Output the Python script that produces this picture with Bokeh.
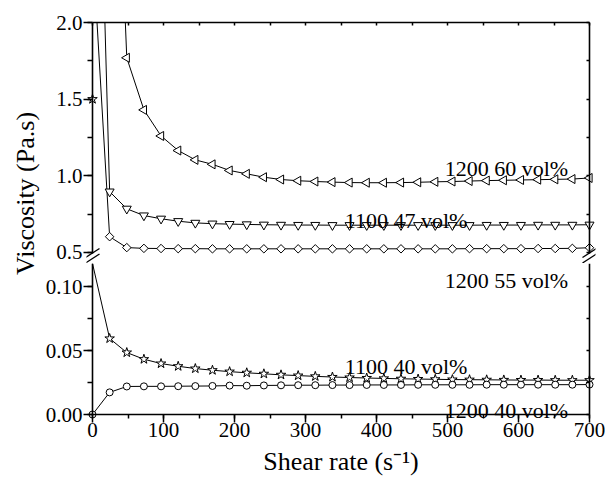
import math
from bokeh.plotting import figure
from bokeh.layouts import row, column
from bokeh.models import (LinearAxis, SingleIntervalTicker, FixedTicker, NumeralTickFormatter,
                          CustomJSTickFormatter, Label, Range1d)
from bokeh.embed import file_html
from bokeh.resources import INLINE

nan = float("nan")

# ---------------- data ----------------
shear_rate = [0.0, 24.14, 48.28, 72.41, 96.55, 120.69, 144.83, 168.97, 193.10, 217.24,
              241.38, 265.52, 289.66, 313.79, 337.93, 362.07, 386.21, 410.34, 434.48, 458.62,
              482.76, 506.90, 531.03, 555.17, 579.31, 603.45, 627.59, 651.72, 675.86, 700.0]

visc_1200_60 = [nan, 4.5, 1.77, 1.43, 1.26, 1.165, 1.104, 1.075, 1.035, 1.013,
                0.991, 0.976, 0.968, 0.963, 0.959, 0.956, 0.955, 0.955, 0.956, 0.958,
                0.961, 0.963, 0.966, 0.969, 0.971, 0.973, 0.975, 0.977, 0.979, 0.986]

visc_1100_47 = [4.9, 0.897, 0.785, 0.741, 0.720, 0.704, 0.693, 0.688, 0.685, 0.683,
                0.681, 0.680, 0.679, 0.679, 0.678, 0.678, 0.678, 0.678, 0.678, 0.678,
                0.678, 0.678, 0.678, 0.679, 0.679, 0.679, 0.680, 0.680, 0.680, 0.681]

visc_1200_55 = [2.5, 0.603, 0.532, 0.527, 0.526, 0.525, 0.525, 0.524, 0.524, 0.524,
                0.524, 0.524, 0.524, 0.524, 0.524, 0.524, 0.524, 0.524, 0.524, 0.524,
                0.524, 0.524, 0.525, 0.525, 0.525, 0.525, 0.526, 0.526, 0.527, 0.531]

visc_1100_40 = [1.5, 0.0594, 0.0484, 0.0432, 0.0398, 0.0377, 0.0359, 0.0346, 0.0335, 0.0326,
                0.0318, 0.0310, 0.0304, 0.0298, 0.0293, 0.0289, 0.0285, 0.0282, 0.0279, 0.0277,
                0.0275, 0.0273, 0.0272, 0.0271, 0.0270, 0.0269, 0.0269, 0.0268, 0.0268, 0.0268]

visc_1200_40 = [0.0, 0.0173, 0.0219, 0.0220, 0.0220, 0.0221, 0.0222, 0.0223, 0.0226, 0.0225,
                0.0227, 0.0228, 0.0229, 0.0229, 0.0230, 0.0230, 0.0231, 0.0231, 0.0231, 0.0232,
                0.0232, 0.0232, 0.0232, 0.0233, 0.0233, 0.0233, 0.0233, 0.0233, 0.0233, 0.0234]

series_names = ["1200 60 vol%", "1100 47 vol%", "1200 55 vol%", "1100 40 vol%", "1200 40 vol%"]

x_title = "Shear rate (s\u207b\u00b9)"
y_title = "Viscosity (Pa.s)"

# ---------------- geometry / style ----------------
FONT = "Liberation Serif"
TITLE_W = 40
PLOT_W = 605 - TITLE_W          # 565
PAD = 6                          # px of frame padding so edge markers stay whole
MB_LEFT, MB_RIGHT = 52 - PAD, 16 - PAD
PX_PER_X = 0.71
X_LO, X_HI = 0, 700
pad_x = PAD / PX_PER_X
x_range = Range1d(X_LO - pad_x, X_HI + pad_x)

# upper panel: frame from y=22 to y=263 px, spine stops at 253 px
TOP_H = 263
TOP_HI = 2.0
TOP_PX_PER_Y = 153.33
TOP_LO = TOP_HI - (TOP_H - 22) / TOP_PX_PER_Y
TOP_SPINE_LO = TOP_HI - (253 - 22) / TOP_PX_PER_Y

# lower panel: 0 at y=414 px, frame from 263 to 420 px
BOT_H = 481 - TOP_H              # 218
BOT_MB = 61
BOT_PX_PER_Y = 1279.7
BOT_HI = (414 - TOP_H) / BOT_PX_PER_Y
BOT_LO = -PAD / BOT_PX_PER_Y


def new_fig(height, y_range, mb_top, mb_bottom):
    f = figure(width=PLOT_W, height=height, x_range=x_range, y_range=y_range,
               output_backend="svg", toolbar_location=None,
               x_axis_location=None, y_axis_location=None,
               min_border_left=MB_LEFT, min_border_right=MB_RIGHT,
               min_border_top=mb_top, min_border_bottom=mb_bottom,
               outline_line_color=None)
    f.xgrid.visible = False
    f.ygrid.visible = False
    return f


def style_common(ax):
    ax.major_label_text_font = FONT
    ax.major_label_text_color = "black"
    ax.axis_line_color = "black"
    ax.axis_line_width = 1.6
    ax.major_tick_line_color = "black"
    ax.major_tick_line_width = 1.5
    ax.minor_tick_line_color = "black"
    ax.minor_tick_line_width = 1.5


def tick_axis(fig, side, interval, minor, fmt=None, tout=0, tin=0, mout=0, mino=0,
              standoff=1, bounds=None, line=False):
    kw = {} if bounds is None else {"bounds": bounds}
    ax = LinearAxis(ticker=SingleIntervalTicker(interval=interval, num_minor_ticks=minor), **kw)
    style_common(ax)
    if fmt is not None:
        ax.formatter = NumeralTickFormatter(format=fmt)
        ax.major_label_text_font_size = "21px"
        ax.major_label_standoff = standoff
    else:
        ax.formatter = CustomJSTickFormatter(code="return ''")
        ax.major_label_text_font_size = "0px"
        ax.major_label_standoff = 0
    if not line:
        ax.axis_line_color = None
    ax.major_tick_out = tout
    ax.major_tick_in = tin
    ax.minor_tick_out = mout
    ax.minor_tick_in = mino
    fig.add_layout(ax, side)
    return ax


def spine(fig, side, fixed, bounds):
    ax = LinearAxis(fixed_location=fixed, bounds=bounds, ticker=FixedTicker(ticks=[]))
    style_common(ax)
    ax.formatter = CustomJSTickFormatter(code="return ''")
    ax.major_label_text_font_size = "0px"
    ax.major_label_standoff = 0
    ax.major_tick_out = 0
    ax.major_tick_in = 0
    ax.minor_tick_out = 0
    ax.minor_tick_in = 0
    fig.add_layout(ax, side)
    return ax


markers = {
    "1200 60 vol%": dict(marker="triangle", angle=math.pi / 2, size=9),
    "1100 47 vol%": dict(marker="inverted_triangle", angle=0.0, size=9),
    "1200 55 vol%": dict(marker="square", angle=math.pi / 4, size=6),
    "1100 40 vol%": dict(marker="star", angle=0.0, size=10),
    "1200 40 vol%": dict(marker="circle", angle=0.0, size=7),
}
values = {
    "1200 60 vol%": visc_1200_60,
    "1100 47 vol%": visc_1100_47,
    "1200 55 vol%": visc_1200_55,
    "1100 40 vol%": visc_1100_40,
    "1200 40 vol%": visc_1200_40,
}

# ---------------- upper panel ----------------
top = new_fig(TOP_H, Range1d(TOP_LO, TOP_HI), 22, 0)
tick_axis(top, "left", 0.5, 2, "0.0", tout=3, tin=PAD, mout=-1, mino=PAD, standoff=1)
spine(top, "left", X_LO, (TOP_SPINE_LO, TOP_HI))
tick_axis(top, "right", 0.25, 0, None, tout=-PAD, tin=PAD + 3, bounds=(TOP_SPINE_LO, TOP_HI))
spine(top, "right", X_HI, (TOP_SPINE_LO, TOP_HI))
tick_axis(top, "above", 50, 0, None, tin=3, bounds=(X_LO, X_HI), line=True)

for name in ["1200 60 vol%", "1100 47 vol%", "1200 55 vol%"]:
    top.line(shear_rate, values[name], line_color="black", line_width=1)
for name in series_names:
    m = markers[name]
    top.scatter(shear_rate, values[name], marker=m["marker"], angle=m["angle"], size=m["size"],
                fill_color="white", line_color="black", line_width=1)

# axis-break marks (two short slashes across each broken spine)
hdx = 7.0 / PX_PER_X
hdy = 4.5 / TOP_PX_PER_Y
bx0, by0, bx1, by1 = [], [], [], []
for xs in (X_LO, X_HI):
    for yc_px in (252.5, 258.0):
        yc = TOP_HI - (yc_px - 22) / TOP_PX_PER_Y
        bx0.append(xs - hdx)
        bx1.append(xs + hdx)
        by0.append(yc - hdy)
        by1.append(yc + hdy)
top.segment(bx0, by0, bx1, by1, line_color="black", line_width=1.3)

# ---------------- lower panel ----------------
bot = new_fig(BOT_H, Range1d(BOT_LO, BOT_HI), 0, BOT_MB)
tick_axis(bot, "left", 0.05, 2, "0.00", tout=3, tin=PAD, mout=-1, mino=PAD, standoff=1,
          bounds=(0, BOT_HI))
spine(bot, "left", X_LO, (0, BOT_HI))
tick_axis(bot, "right", 0.025, 0, None, tout=-PAD, tin=PAD + 3, bounds=(0, BOT_HI))
spine(bot, "right", X_HI, (0, BOT_HI))
xb = tick_axis(bot, "below", 100, 2, "0", tout=2, tin=PAD, mout=-2, mino=PAD, standoff=0,
               bounds=(X_LO, X_HI))
spine(bot, "below", 0, (X_LO, X_HI))
xb.axis_label = x_title
xb.axis_label_text_font = FONT
xb.axis_label_text_font_size = "26px"
xb.axis_label_text_font_style = "normal"
xb.axis_label_text_color = "black"
xb.axis_label_standoff = 7

bot.line(shear_rate, [min(v, BOT_HI) for v in visc_1100_40], line_color="black", line_width=1)
bot.line(shear_rate, visc_1200_40, line_color="black", line_width=1)
for name in series_names:
    m = markers[name]
    bot.scatter(shear_rate, values[name], marker=m["marker"], angle=m["angle"], size=m["size"],
                fill_color="white", line_color="black", line_width=1)

# ---------------- series labels ----------------
def series_label(fig, x, y, text):
    fig.add_layout(Label(x=x, y=y, text=text, text_align="right", text_baseline="alphabetic",
                         text_font=FONT, text_font_size="22px", text_color="black"))

series_label(top, 670, 1.046, series_names[0])
series_label(top, 528, 0.709, series_names[1])
series_label(bot, 670, 0.105, series_names[2])
series_label(bot, 528, 0.0377, series_names[3])
series_label(bot, 670, 0.0034, series_names[4])

# ---------------- y title panel ----------------
ttl = figure(width=TITLE_W, height=481, x_range=Range1d(0, TITLE_W), y_range=Range1d(0, 481),
             output_backend="svg", toolbar_location=None, x_axis_location=None,
             y_axis_location=None, min_border=0, outline_line_color=None)
ttl.xgrid.visible = False
ttl.ygrid.visible = False
ttl.add_layout(Label(x=25, y=481 - 193, text=y_title, angle=math.pi / 2, text_align="center",
                     text_baseline="alphabetic", text_font=FONT, text_font_size="26px",
                     text_color="black"))

layout = row(ttl, column(top, bot, spacing=0), spacing=0)
open("out.html", "w").write(file_html(layout, INLINE))
